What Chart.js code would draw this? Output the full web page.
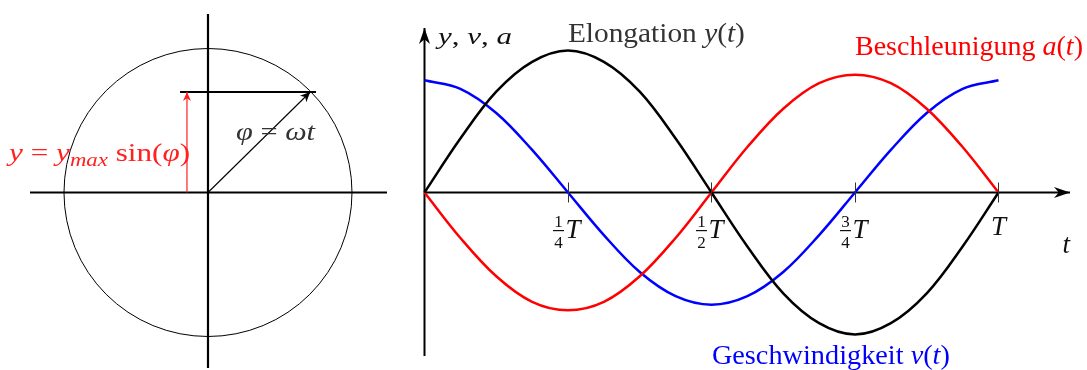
<!DOCTYPE html>
<html>
<head>
<meta charset="utf-8">
<title>Schwingung</title>
<script src="https://cdn.jsdelivr.net/npm/chart.js@4.4.1/dist/chart.umd.min.js"></script>
<style>
    body { margin: 0; background: #fff; }
    #wrap { position: relative; width: 1087px; height: 370px; overflow: hidden; }
    #circleChart { position: absolute; left: 0; top: 0; }
    #waveChart { position: absolute; left: 410px; top: 0; }
</style>
</head>
<body>
<div id="wrap">
    <canvas id="circleChart" width="410" height="370"></canvas>
    <canvas id="waveChart" width="677" height="370"></canvas>
</div>
<script>
// Unit circle (units = radius)
const circleCenter = [{ x: 0, y: 0 }];
const horizontalAxis = [{ x: -1.236, y: 0 }, { x: 1.243, y: 0 }];
const verticalAxis = [{ x: 0, y: -1.219 }, { x: 0, y: 1.24 }];
const phasor = [{ x: 0, y: 0 }, { x: 0.71, y: 0.698 }];
const projection = [{ x: -0.194, y: 0.698 }, { x: 0.75, y: 0.698 }];
const sineArrow = [{ x: -0.146, y: 0 }, { x: -0.146, y: 0.698 }];

// Wave diagram (t in units of T, values relative to elongation amplitude)
const tValues = [0, 0.0625, 0.125, 0.1875, 0.25, 0.3125, 0.375, 0.4375, 0.5,
    0.5625, 0.625, 0.6875, 0.75, 0.8125, 0.875, 0.9375, 1];
const elongation = [0, 0.38, 0.71, 0.92, 1, 0.92, 0.71, 0.38, 0,
    -0.38, -0.71, -0.92, -1, -0.92, -0.71, -0.38, 0];
const velocity = [0.79, 0.73, 0.56, 0.30, 0, -0.30, -0.56, -0.73, -0.79,
    -0.73, -0.56, -0.30, 0, 0.30, 0.56, 0.73, 0.79];
const acceleration = [0, -0.32, -0.59, -0.77, -0.83, -0.77, -0.59, -0.32, 0,
    0.32, 0.59, 0.77, 0.83, 0.77, 0.59, 0.32, 0];
const timeAxis = [{ x: 0, y: 0 }, { x: 1.1246, y: 0 }];
const valueAxis = [{ x: 0, y: -1.151 }, { x: 0, y: 1.158 }];
const tickPositions = [0.25, 0.5, 0.75, 1];
const tickLabels = ['1/4', '1/2', '3/4', ''];

const SERIF = '"Liberation Serif", "Times New Roman", "DejaVu Serif", serif';

function toPoints(xs, ys) {
    return xs.map((x, i) => ({ x: x, y: ys[i] }));
}

// draws a list of [text, style] runs, stretched to a given width
function drawRuns(ctx, runs, cx, by, size, color, width) {
    const fontFor = (style) => {
        if (style === 'i') return `italic ${size}px ${SERIF}`;
        if (style === 's') return `italic ${Math.round(size * 0.72)}px ${SERIF}`;
        return `${size}px ${SERIF}`;
    };
    let total = 0;
    runs.forEach(r => { ctx.font = fontFor(r[1]); total += ctx.measureText(r[0]).width; });
    const sx = width ? width / total : 1;
    const w = total * sx;
    ctx.save();
    ctx.translate(cx - w / 2, by);
    ctx.scale(sx, 1);
    ctx.fillStyle = color;
    ctx.textBaseline = 'alphabetic';
    ctx.textAlign = 'left';
    let x = 0;
    runs.forEach(r => {
        ctx.font = fontFor(r[1]);
        ctx.fillText(r[0], x, r[1] === 's' ? size * 0.2 : 0);
        x += ctx.measureText(r[0]).width;
    });
    ctx.restore();
}

function drawArrowHead(ctx, x1, y1, x2, y2, len, half, color) {
    const a = Math.atan2(y2 - y1, x2 - x1);
    const c = Math.cos(a), s = Math.sin(a);
    ctx.save();
    ctx.fillStyle = color;
    ctx.beginPath();
    ctx.moveTo(x2, y2);
    ctx.lineTo(x2 - len * c + half * s, y2 - len * s - half * c);
    ctx.lineTo(x2 - len * 0.7 * c, y2 - len * 0.7 * s);
    ctx.lineTo(x2 - len * c - half * s, y2 - len * s + half * c);
    ctx.closePath();
    ctx.fill();
    ctx.restore();
}

const diagramPlugin = {
    id: 'diagram',
    afterDatasetsDraw(chart, args, opts) {
        const ctx = chart.ctx;
        const sx = chart.scales.x, sy = chart.scales.y;

        // arrow heads at the end of marked datasets
        chart.data.datasets.forEach((ds, i) => {
            if (!ds.arrowHead) return;
            const pts = chart.getDatasetMeta(i).data;
            const p1 = pts[pts.length - 2], p2 = pts[pts.length - 1];
            drawArrowHead(ctx, p1.x, p1.y, p2.x, p2.y, ds.arrowHead[0], ds.arrowHead[1], ds.borderColor);
        });

        // time axis ticks with fraction labels
        if (opts.ticks) {
            const y0 = sy.getPixelForValue(0);
            ctx.save();
            ctx.strokeStyle = '#333';
            ctx.lineWidth = 1;
            tickPositions.forEach((t, i) => {
                const x = Math.round(sx.getPixelForValue(t)) + 0.5;
                ctx.beginPath();
                ctx.moveTo(x, y0 - 10);
                ctx.lineTo(x, y0 + 10);
                ctx.stroke();

                const base = y0 + 46;
                ctx.fillStyle = '#111';
                ctx.textBaseline = 'alphabetic';
                if (tickLabels[i]) {
                    const [num, den] = tickLabels[i].split('/');
                    const fx = x - 10;
                    ctx.font = `17px ${SERIF}`;
                    ctx.textAlign = 'center';
                    ctx.fillText(num, fx, base - 11);
                    ctx.fillText(den, fx, base + 10);
                    ctx.fillRect(fx - 5.5, base - 8.5, 11, 1.2);
                    ctx.font = `italic 27px ${SERIF}`;
                    ctx.textAlign = 'left';
                    ctx.fillText('T', x - 3, base);
                } else {
                    ctx.font = `italic 27px ${SERIF}`;
                    ctx.textAlign = 'center';
                    ctx.fillText('T', x, base - 3);
                }
            });
            ctx.restore();
        }

        (opts.labels || []).forEach(l => {
            drawRuns(ctx, l.runs, sx.getPixelForValue(l.x), sy.getPixelForValue(l.y), l.size, l.color, l.width);
        });
    }
};

function lineSet(data, color, width, extra) {
    return Object.assign({
        data: data,
        showLine: true,
        borderColor: color,
        borderWidth: width,
        pointRadius: 0,
        fill: false,
        clip: false
    }, extra || {});
}

const hiddenScale = (min, max) => ({ type: 'linear', min: min, max: max, display: false });

const baseOptions = {
    responsive: false,
    animation: false,
    events: [],
    layout: { padding: 0 },
    plugins: { legend: { display: false }, tooltip: { enabled: false } }
};

// Left: unit circle
new Chart(document.getElementById('circleChart').getContext('2d'), {
    type: 'scatter',
    data: {
        datasets: [
            lineSet(sineArrow, '#ff2020', 1.2, { arrowHead: [9, 4] }),
            lineSet(phasor, '#000', 1.1, { arrowHead: [10, 4.5] }),
            lineSet(projection, '#000', 2.2),
            lineSet(horizontalAxis, '#000', 2.2),
            lineSet(verticalAxis, '#000', 2.2),
            {
                data: circleCenter,
                showLine: false,
                clip: false,
                pointRadius: (c) => {
                    const s = c.chart.scales.x;
                    return s.getPixelForValue(1) - s.getPixelForValue(0);
                },
                pointBackgroundColor: 'rgba(0,0,0,0)',
                pointBorderColor: '#000',
                pointBorderWidth: 1
            }
        ]
    },
    options: Object.assign({}, baseOptions, {
        scales: { x: hiddenScale(-1.4444, 1.4028), y: hiddenScale(-1.2326, 1.3368) },
        plugins: Object.assign({}, baseOptions.plugins, {
            diagram: {
                labels: [
                    { runs: [['y', 'i'], [' = ', 'r'], ['y', 'i'], ['max', 's'], [' sin(', 'r'], ['φ', 'i'], [')', 'r']],
                      x: -0.753, y: 0.219, size: 26, color: '#ff2020', width: 181 },
                    { runs: [['φ', 'i'], [' = ', 'r'], ['ωt', 'i']],
                      x: 0.469, y: 0.365, size: 26, color: '#333', width: 79 }
                ]
            }
        })
    }),
    plugins: [diagramPlugin]
});

// Right: elongation, velocity, acceleration
new Chart(document.getElementById('waveChart').getContext('2d'), {
    type: 'scatter',
    data: {
        datasets: [
            lineSet(toPoints(tValues, elongation), '#000', 2.5, { tension: 0.36 }),
            lineSet(toPoints(tValues, acceleration), '#ff0000', 2.5, { tension: 0.36 }),
            lineSet(toPoints(tValues, velocity), '#0000ff', 2.5, { tension: 0.36 }),
            lineSet(timeAxis, '#000', 2, { arrowHead: [16, 5.5] }),
            lineSet(valueAxis, '#000', 2, { arrowHead: [16, 5.5] })
        ]
    },
    options: Object.assign({}, baseOptions, {
        scales: { x: hiddenScale(-0.02526, 1.1542), y: hiddenScale(-1.25, 1.3556) },
        plugins: Object.assign({}, baseOptions.plugins, {
            diagram: {
                ticks: true,
                labels: [
                    { runs: [['y', 'i'], [', ', 'r'], ['v', 'i'], [', ', 'r'], ['a', 'i']],
                      x: 0.088, y: 1.046, size: 24, color: '#111', width: 74 },
                    { runs: [['Elongation ', 'r'], ['y', 'i'], ['(', 'r'], ['t', 'i'], [')', 'r']],
                      x: 0.404, y: 1.06, size: 27, color: '#333', width: 177 },
                    { runs: [['Beschleunigung ', 'r'], ['a', 'i'], ['(', 'r'], ['t', 'i'], [')', 'r']],
                      x: 0.9486, y: 0.968, size: 27, color: '#ff0000', width: 228 },
                    { runs: [['Geschwindigkeit ', 'r'], ['v', 'i'], ['(', 'r'], ['t', 'i'], [')', 'r']],
                      x: 0.708, y: -1.208, size: 27, color: '#0000ff', width: 238 },
                    { runs: [['t', 'i']], x: 1.118, y: -0.426, size: 27, color: '#111' }
                ]
            }
        })
    }),
    plugins: [diagramPlugin]
});
</script>
</body>
</html>
